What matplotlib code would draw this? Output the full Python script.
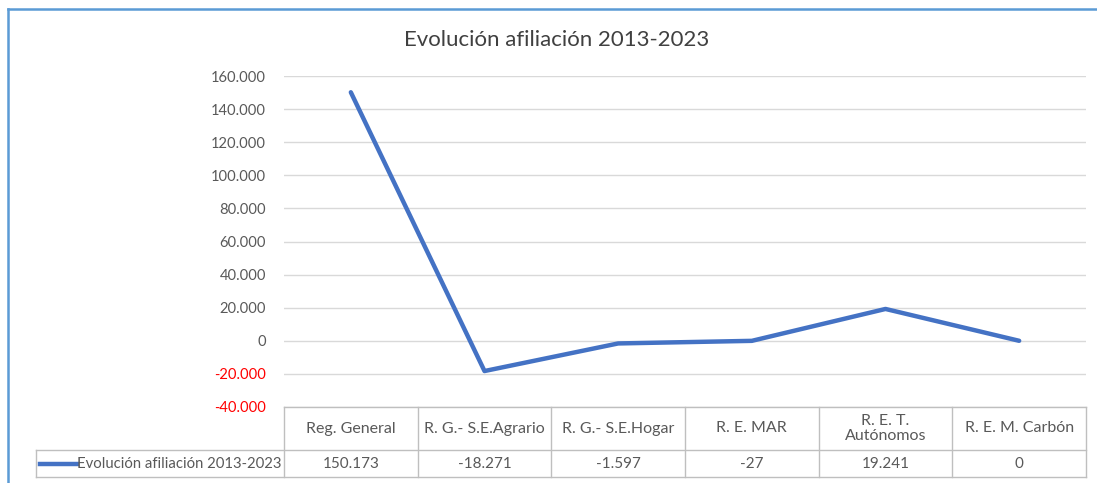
import numpy as np
import matplotlib.pyplot as plt
from matplotlib.lines import Line2D
from matplotlib.transforms import blended_transform_factory

plt.rcParams['font.family'] = ['Lato', 'DejaVu Sans']

# data
categorias = ['Reg. General', 'R. G.- S.E.Agrario', 'R. G.- S.E.Hogar',
              'R. E. MAR', 'R. E. T.\nAutónomos', 'R. E. M. Carbón']
valores = [150173, -18271, -1597, -27, 19241, 0]
serie = 'Evolución afiliación 2013-2023'
yticks = [-40000, -20000, 0, 20000, 40000, 60000, 80000,
          100000, 120000, 140000, 160000]

azul = '#4472C4'
gris = '#595959'
rejilla = '#D9D9D9'


def fmt_miles(v):
    '''
    Number with dot as thousands separator (Spanish style).
    '''
    s = '{:,.0f}'.format(v).replace(',', '.')
    return s


W, H = 1097, 483
fig = plt.figure(figsize=(W / 100, H / 100), dpi=100)

# plot area in pixels
x0, x1 = 284, 1086
y_top, y_bot = 76, 407
ax = fig.add_axes([x0 / W, 1 - y_bot / H, (x1 - x0) / W, (y_bot - y_top) / H])

x = np.arange(len(valores))
ax.plot(x, valores, color=azul, lw=3.2, solid_capstyle='round', zorder=3)

ax.set_xlim(-0.5, len(valores) - 0.5)
ax.set_ylim(yticks[0], yticks[-1])
ax.set_yticks(yticks)
ax.set_yticklabels([fmt_miles(v) for v in yticks])
for lab, v in zip(ax.get_yticklabels(), yticks):
    lab.set_color('red' if v < 0 else gris)
    lab.set_fontsize(10.6)
ax.tick_params(axis='y', length=0, pad=13)
ax.set_xticks([])
ax.grid(axis='y', color=rejilla, lw=1)
for s in ax.spines.values():
    s.set_visible(False)

# data table below the plot
tr = blended_transform_factory(ax.transData, ax.transAxes)
h = y_bot - y_top
f_head = (y_bot - 450) / h
f_data = (y_bot - 477) / h
x_lab = -0.5 - (x0 - 36) / ((x1 - x0) / len(valores))
tc = '#BFBFBF'

lines = []
# horizontal lines
lines.append(([-0.5, len(valores) - 0.5], [0, 0]))
lines.append(([x_lab, len(valores) - 0.5], [f_head, f_head]))
lines.append(([x_lab, len(valores) - 0.5], [f_data, f_data]))
# vertical lines
for i in range(len(valores) + 1):
    lines.append(([i - 0.5, i - 0.5], [0, f_data]))
lines.append(([x_lab, x_lab], [f_head, f_data]))
for xs, ys in lines:
    ax.add_line(Line2D(xs, ys, transform=tr, color=tc, lw=1, clip_on=False))

for i, (c, v) in enumerate(zip(categorias, valores)):
    ax.text(i, f_head / 2, c, transform=tr, ha='center', va='center',
            fontsize=11.5, color=gris, linespacing=1.05)
    ax.text(i, (f_head + f_data) / 2, fmt_miles(v), transform=tr,
            ha='center', va='center', fontsize=11, color=gris)

# legend key in table
k0 = -0.5 - (x0 - 40) / ((x1 - x0) / len(valores))
k1 = -0.5 - (x0 - 77) / ((x1 - x0) / len(valores))
ym = (f_head + f_data) / 2
ax.add_line(Line2D([k0, k1], [ym, ym], transform=tr, color=azul, lw=3.2,
                   clip_on=False))
ax.text(k1, ym, serie, transform=tr, ha='left', va='center',
        fontsize=10.7, color=gris)

# title
fig.text(557 / W, 1 - 40 / H, serie, ha='center', va='center',
         fontsize=16, color='#404040')

# chart frame (blue border, cut off at right/bottom)
fig.add_artist(Line2D([8 / W, 8 / W], [0, 1 - 9 / H], transform=fig.transFigure,
                      color='#5B9BD5', lw=1.8))
fig.add_artist(Line2D([8 / W, 1], [1 - 9 / H, 1 - 9 / H],
                      transform=fig.transFigure, color='#5B9BD5', lw=1.8))

fig.savefig('out.png', dpi=100)
